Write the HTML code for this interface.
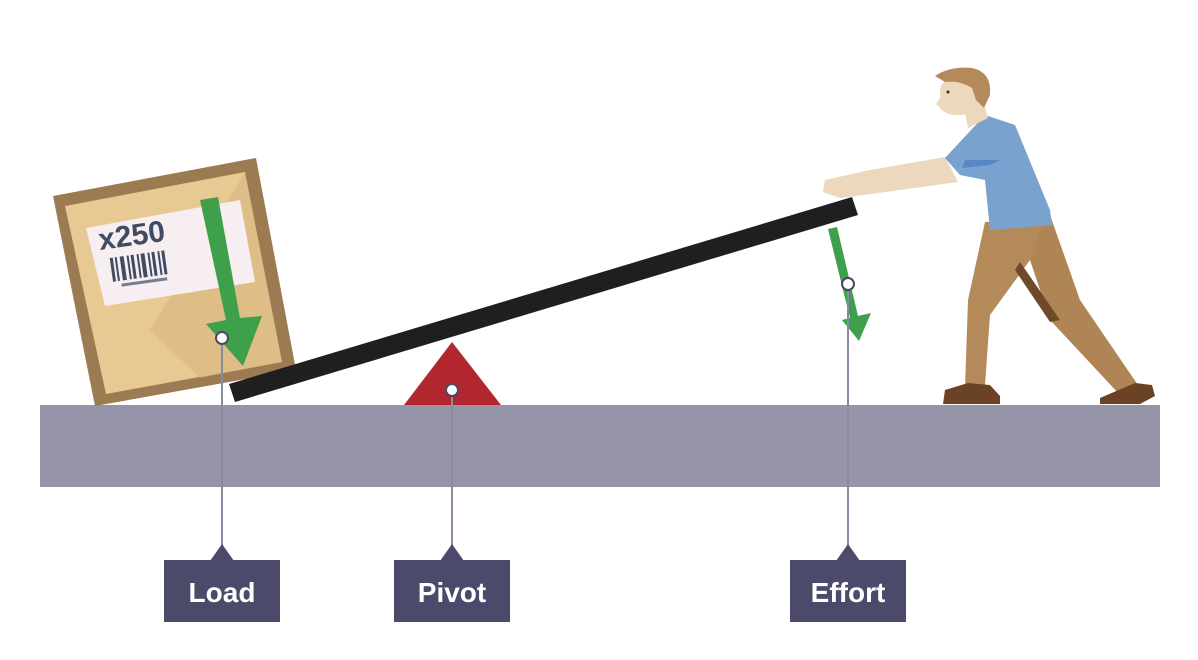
<!DOCTYPE html>
<html><head><style>
html,body{margin:0;padding:0;background:#fff;width:1198px;height:660px;overflow:hidden}
svg{display:block}
text{font-family:"Liberation Sans",sans-serif;font-weight:bold}
</style></head><body>
<svg width="1198" height="660" viewBox="0 0 1198 660">
<rect x="40" y="405" width="1120" height="82" fill="#9594a8"/>
<polygon points="53,196 256,158 296,370 95,406" fill="#9c7b53"/>
<polygon points="65,206 245,172 282,362 106,394" fill="#e8c994"/>
<polygon points="150,330 245,172 282,362 200,378" fill="#d9b57e" opacity="0.6"/>
<polygon points="86,228 240,200 255,282 105,306" fill="#f6eef0"/>
<text x="100" y="250" font-size="30" fill="#3f4c63" transform="rotate(-8 100 250)">x250</text>
<g fill="#3f4c63" transform="rotate(-8 110 260)">
<rect x="110" y="258" width="3" height="24"/><rect x="115" y="258" width="2" height="24"/><rect x="120" y="258" width="4" height="24"/><rect x="127" y="258" width="2" height="24"/><rect x="131" y="258" width="3" height="24"/><rect x="137" y="258" width="2" height="24"/><rect x="141" y="258" width="4" height="24"/><rect x="148" y="258" width="2" height="24"/><rect x="152" y="258" width="3" height="24"/><rect x="158" y="258" width="2" height="24"/><rect x="162" y="258" width="3" height="24"/>
<rect x="118" y="285" width="46" height="3" opacity="0.7"/>
</g>
<polygon points="200,200 218,197 240,318 262,316 243,366 206,324 226,320" fill="#3fa04b"/>
<polygon points="229,384 852,197 858,215 235,402" fill="#1f1f1f"/>
<polygon points="404,405 452,342 501,405" fill="#b2262d"/>
<polygon points="828,229 837,227 858,316 871,313 859,341 842,320 850,318" fill="#3fa04b"/>
<g stroke="#8a8aa0" stroke-width="2">
<line x1="222" y1="338" x2="222" y2="548"/>
<line x1="452" y1="390" x2="452" y2="548"/>
<line x1="848" y1="284" x2="848" y2="548"/>
</g>
<g fill="#fff" stroke="#4a4868" stroke-width="2">
<circle cx="222" cy="338" r="6"/><circle cx="452" cy="390" r="6"/><circle cx="848" cy="284" r="6"/>
</g>
<g fill="#4c4a6a">
<rect x="164" y="560" width="116" height="62"/><polygon points="210,561 222,544 234,561"/>
<rect x="394" y="560" width="116" height="62"/><polygon points="440,561 452,544 464,561"/>
<rect x="790" y="560" width="116" height="62"/><polygon points="836,561 848,544 860,561"/>
</g>
<g fill="#fff" font-size="28" text-anchor="middle">
<text x="222" y="602">Load</text><text x="452" y="602">Pivot</text><text x="848" y="602">Effort</text>
</g>
<polygon points="1000,220 1050,215 1080,300 1140,388 1120,395 1050,320 1030,260" fill="#b08556"/>
<polygon points="985,222 1045,218 1030,260 990,315 985,385 965,388 968,300" fill="#b58a5b"/>
<polygon points="1020,262 1060,320 1050,322 1015,270" fill="#6e4a28"/>
<polygon points="945,390 968,383 990,385 1000,396 1000,404 943,404" fill="#6b4324"/>
<polygon points="1100,398 1135,383 1152,385 1155,396 1140,404 1100,404" fill="#6b4324"/>
<polygon points="825,180 870,170 945,157 958,182 900,190 840,198 823,192" fill="#ecd8bd"/>
<polygon points="945,158 985,115 1015,125 1050,210 1052,225 990,230 985,180 960,175" fill="#7aa2cf"/>
<polygon points="965,160 1000,160 990,165 962,168" fill="#5b86c4"/>
<polygon points="962,100 982,98 988,118 968,128" fill="#ecd8bd"/>
<path d="M940,90 Q942,78 958,76 Q975,78 980,95 Q978,112 962,115 Q948,116 942,110 L936,104 L940,98Z" fill="#ecd8bd"/>
<path d="M935,76 Q950,66 972,68 Q992,72 990,95 L984,108 L976,100 L972,88 Q960,80 945,82 Z" fill="#b58a5b"/>
<circle cx="948" cy="92" r="1.5" fill="#333"/>
</svg>
</body></html>
